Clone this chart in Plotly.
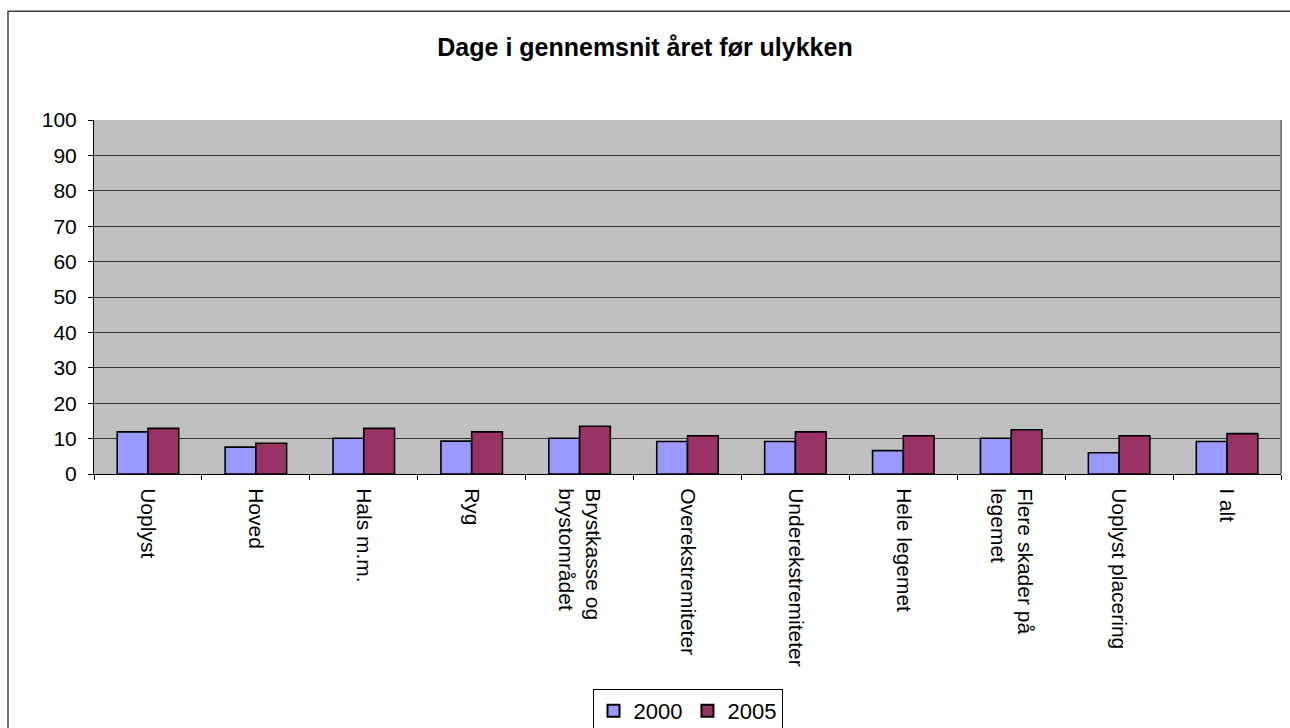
import plotly.graph_objects as go

categories = ["Uoplyst", "Hoved", "Hals m.m.", "Ryg", "Brystkasse og<br>brystområdet",
              "Overekstremiteter", "Underekstremiteter", "Hele legemet",
              "Flere skader på<br>legemet", "Uoplyst placering", "I alt"]
values_2000 = [11.9, 7.6, 10.1, 9.3, 10.1, 9.2, 9.2, 6.6, 10.1, 6.0, 9.2]
values_2005 = [12.9, 8.7, 12.9, 11.9, 13.5, 10.8, 11.9, 10.8, 12.5, 10.8, 11.4]
series_names = ["2000", "2005"]
y_ticks = list(range(0, 101, 10))

FONT = "Liberation Sans, Arial, sans-serif"

fig = go.Figure()
fig.add_trace(go.Bar(x=categories, y=values_2000, name=series_names[0],
                     marker=dict(color="#9999FF", line=dict(color="#000000", width=1.6))))
fig.add_trace(go.Bar(x=categories, y=values_2005, name=series_names[1],
                     marker=dict(color="#993366", line=dict(color="#000000", width=1.6))))

W, H = 1290, 728
L, R, T, B = 94, 9, 120, 253.5
pw, ph = W - L - R, H - T - B

def px_x(p):
    return (p - L) / pw

def px_y(p):
    return (H - B - p) / ph

fig.update_layout(
    width=W, height=H,
    margin=dict(l=L, r=R, t=T, b=B, pad=0),
    paper_bgcolor="white",
    plot_bgcolor="#C0C0C0",
    barmode="group",
    bargap=0.43,
    bargroupgap=0,
    font=dict(family=FONT, color="black"),
    title=dict(text="<b>Dage i gennemsnit året før ulykken</b>",
               x=0.5, xref="container", xanchor="center",
               y=1 - 47 / H, yref="container", yanchor="middle",
               font=dict(family=FONT, size=25, color="black")),
    legend=dict(orientation="h", x=0.5, xanchor="center",
                xref="paper", yref="container",
                y=(H - 689) / H, yanchor="top",
                bgcolor="white", bordercolor="black", borderwidth=1,
                font=dict(family=FONT, size=22, color="black"),
                itemsizing="constant", traceorder="normal"),
    showlegend=True,
)

fig.update_xaxes(
    type="category",
    tickangle=90,
    tickson="boundaries",
    ticks="outside", ticklen=5, tickcolor="black", tickwidth=1,
    showline=True, linecolor="black", linewidth=1,
    showgrid=False,
    tickfont=dict(family=FONT, size=21, color="black"),
    ticklabelstandoff=9,
    automargin=False,
)
fig.update_yaxes(
    range=[0, 100],
    tickvals=y_ticks,
    ticktext=[str(v) for v in y_ticks],
    ticks="outside", ticklen=5, tickcolor="black", tickwidth=1,
    showline=True, linecolor="black", linewidth=1,
    showgrid=True, gridcolor="#333333", gridwidth=1,
    zeroline=False,
    tickfont=dict(family=FONT, size=21, color="black"),
    ticklabelstandoff=7,
    automargin=False,
)

# right-edge darker border of plot area
fig.add_shape(type="line", xref="paper", yref="paper", x0=1, x1=1, y0=0, y1=1,
              line=dict(color="#808080", width=2), layer="above")
# outer chart frame
fig.add_shape(type="rect", xref="paper", yref="paper",
              x0=px_x(8), x1=px_x(1296), y0=px_y(745), y1=px_y(11),
              line=dict(color="#404040", width=1.5), layer="above")

fig.write_html(
    "out.html",
    config={"displayModeBar": False},
    post_script="document.body.style.margin='0';document.body.style.overflow='hidden';",
)
